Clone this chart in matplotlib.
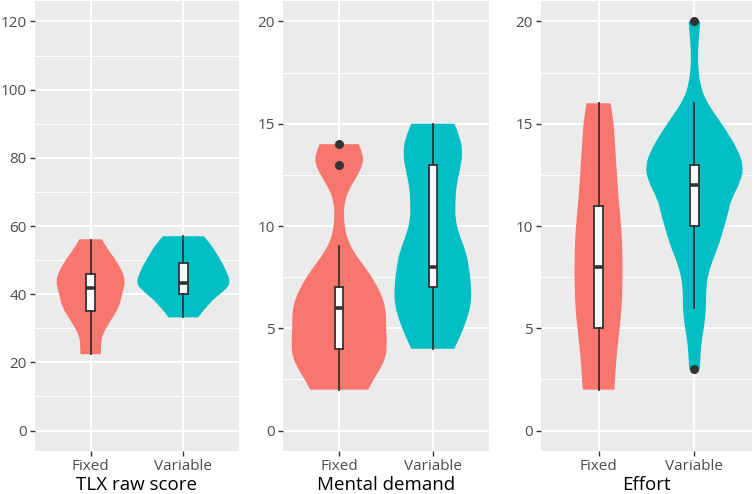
import matplotlib
matplotlib.use("Agg")
import matplotlib.pyplot as plt
from matplotlib.path import Path
from matplotlib.patches import PathPatch
import numpy as np

plt.rcParams['font.family'] = ['Open Sans', 'DejaVu Sans']

# ---------------- data ----------------
panel_titles = ["TLX raw score", "Mental demand", "Effort"]
groups = ["Fixed", "Variable"]
group_colors = ["#F8766D", "#00BFC4"]

# y-limits / ticks per panel
panel_ylim = [(-6, 126), (-1, 21), (-1, 21)]
panel_major = [[0, 20, 40, 60, 80, 100, 120], [0, 5, 10, 15, 20], [0, 5, 10, 15, 20]]
panel_minor = [[10, 30, 50, 70, 90, 110], [2.5, 7.5, 12.5, 17.5], [2.5, 7.5, 12.5, 17.5]]

# violin outline profiles (value, half-width in category units)
tlx_fixed_y = [22.4, 25.5, 28.4, 32.4, 36.3, 40.2, 44.1, 49.0, 52.9, 56.1]
tlx_fixed_w = [0.11, 0.11, 0.13, 0.22, 0.31, 0.34, 0.38, 0.30, 0.19, 0.12]
tlx_var_y = [33.2, 37.3, 41.2, 43.4, 47.1, 51.0, 54.9, 57.0]
tlx_var_w = [0.16, 0.27, 0.45, 0.51, 0.46, 0.38, 0.29, 0.22]

md_fixed_y = [2.0, 2.45, 2.94, 3.6, 4.25, 5.07, 5.88, 6.54, 7.19, 7.84, 8.5, 9.15,
              9.8, 10.46, 11.1, 11.76, 12.42, 13.07, 13.56, 14.0]
md_fixed_w = [0.31, 0.36, 0.43, 0.50, 0.51, 0.50, 0.50, 0.46, 0.39, 0.30, 0.19, 0.105,
              0.063, 0.05, 0.055, 0.10, 0.19, 0.26, 0.25, 0.21]
md_var_y = [4.0, 4.57, 5.39, 6.21, 7.03, 7.84, 8.66, 9.48, 10.29, 11.11, 11.93, 12.75,
            13.56, 14.38, 15.0]
md_var_w = [0.23, 0.29, 0.36, 0.41, 0.41, 0.39, 0.36, 0.29, 0.24, 0.24, 0.25, 0.29,
            0.32, 0.29, 0.23]

ef_fixed_y = [2.0, 3.27, 4.57, 5.88, 7.19, 8.5, 9.8, 11.27, 12.6, 14.2, 15.36, 16.0]
ef_fixed_w = [0.165, 0.18, 0.21, 0.24, 0.25, 0.25, 0.24, 0.21, 0.19, 0.17, 0.15, 0.125]
ef_var_y = [3.0, 3.43, 4.25, 5.07, 5.88, 6.7, 7.51, 8.33, 9.15, 9.97, 10.62, 11.27,
            12.25, 12.99, 13.73, 14.54, 15.36, 16.2, 17.0, 17.8, 18.6, 19.44, 20.0]
ef_var_w = [0.055, 0.06, 0.07, 0.10, 0.12, 0.12, 0.135, 0.19, 0.26, 0.31, 0.35, 0.38,
            0.49, 0.51, 0.45, 0.35, 0.23, 0.11, 0.057, 0.038, 0.036, 0.052, 0.06]

violin_y = [[tlx_fixed_y, tlx_var_y], [md_fixed_y, md_var_y], [ef_fixed_y, ef_var_y]]
violin_w = [[tlx_fixed_w, tlx_var_w], [md_fixed_w, md_var_w], [ef_fixed_w, ef_var_w]]

# box statistics: whisker low, q1, median, q3, whisker high, outliers
tlx_fixed_box = [22.4, 35.0, 41.9, 45.9, 56.0, []]
tlx_var_box = [33.2, 40.0, 43.4, 49.2, 57.0, []]
md_fixed_box = [2, 4, 6, 7, 9, [13, 14]]
md_var_box = [4, 7, 8, 13, 15, []]
ef_fixed_box = [2, 5, 8, 11, 16, []]
ef_var_box = [6, 10, 12, 13, 16, [3, 20]]
box_stats = [[tlx_fixed_box, tlx_var_box], [md_fixed_box, md_var_box], [ef_fixed_box, ef_var_box]]


def smooth_side(xs, ys):
    """Quadratic-Bezier path pieces through midpoints (rendering only)."""
    verts = [(xs[0], ys[0])]
    codes = []
    n = len(xs)
    for k in range(1, n - 1):
        mx, my = (xs[k] + xs[k + 1]) / 2, (ys[k] + ys[k + 1]) / 2
        if k == n - 2:
            mx, my = xs[-1], ys[-1]
        verts += [(xs[k], ys[k]), (mx, my)]
        codes += [Path.CURVE3, Path.CURVE3]
    if n == 2:
        verts.append((xs[1], ys[1]))
        codes.append(Path.LINETO)
    return verts, codes


def violin_patch(pos, yv, wv, color):
    yv = list(yv)
    wv = list(wv)
    rv, rc = smooth_side([pos + w for w in wv], yv)
    lv, lc = smooth_side([pos - w for w in wv[::-1]], yv[::-1])
    verts = rv + lv + [rv[0]]
    codes = [Path.MOVETO] + rc + [Path.LINETO] + lc + [Path.CLOSEPOLY]
    return PathPatch(Path(verts, codes), facecolor=color, edgecolor="none", zorder=2)


# ---------------- figure ----------------
W, H = 754, 494
fig = plt.figure(figsize=(W / 100, H / 100), dpi=100)
axes_px = [(35, 204), (283, 206), (541, 211)]
top_px, bot_px = 1, 451

for i, (left, width) in enumerate(axes_px):
    ax = fig.add_axes([left / W, (H - bot_px) / H, width / W, (bot_px - top_px) / H])
    ax.set_facecolor("#EBEBEB")
    for s in ax.spines.values():
        s.set_visible(False)
    ax.set_xlim(0.4, 2.6)
    ax.set_ylim(*panel_ylim[i])
    ax.set_yticks(panel_major[i])
    ax.set_yticks(panel_minor[i], minor=True)
    ax.set_xticks([1, 2])
    ax.set_xticklabels(groups)
    ax.grid(True, which="major", color="white", linewidth=1.4)
    ax.grid(True, which="minor", axis="y", color="white", linewidth=0.7)
    ax.set_axisbelow(True)
    ax.tick_params(axis="both", which="major", length=3.5, width=1.0, color="#333333",
                   labelcolor="#4D4D4D", labelsize=11, pad=2.5)
    ax.tick_params(axis="y", which="minor", length=0)
    ax.set_xlabel(panel_titles[i], fontsize=13.5, color="black", labelpad=1)

    for g in range(2):
        pos = g + 1
        ax.add_patch(violin_patch(pos, violin_y[i][g], violin_w[i][g], group_colors[g]))

        wl, q1, med, q3, wh, fl = box_stats[i][g]
        stats = [dict(whislo=wl, q1=q1, med=med, q3=q3, whishi=wh, fliers=fl)]
        ax.bxp(stats, positions=[pos], widths=0.09, showcaps=False, patch_artist=True,
               boxprops=dict(facecolor="white", edgecolor="#333333", linewidth=1.3),
               whiskerprops=dict(color="#333333", linewidth=1.3),
               medianprops=dict(color="#333333", linewidth=2.6, solid_capstyle="butt"),
               flierprops=dict(marker="o", markerfacecolor="#333333", markeredgecolor="#333333",
                               markersize=5.5),
               manage_ticks=False, zorder=3)

fig.savefig("out.png", dpi=100)
